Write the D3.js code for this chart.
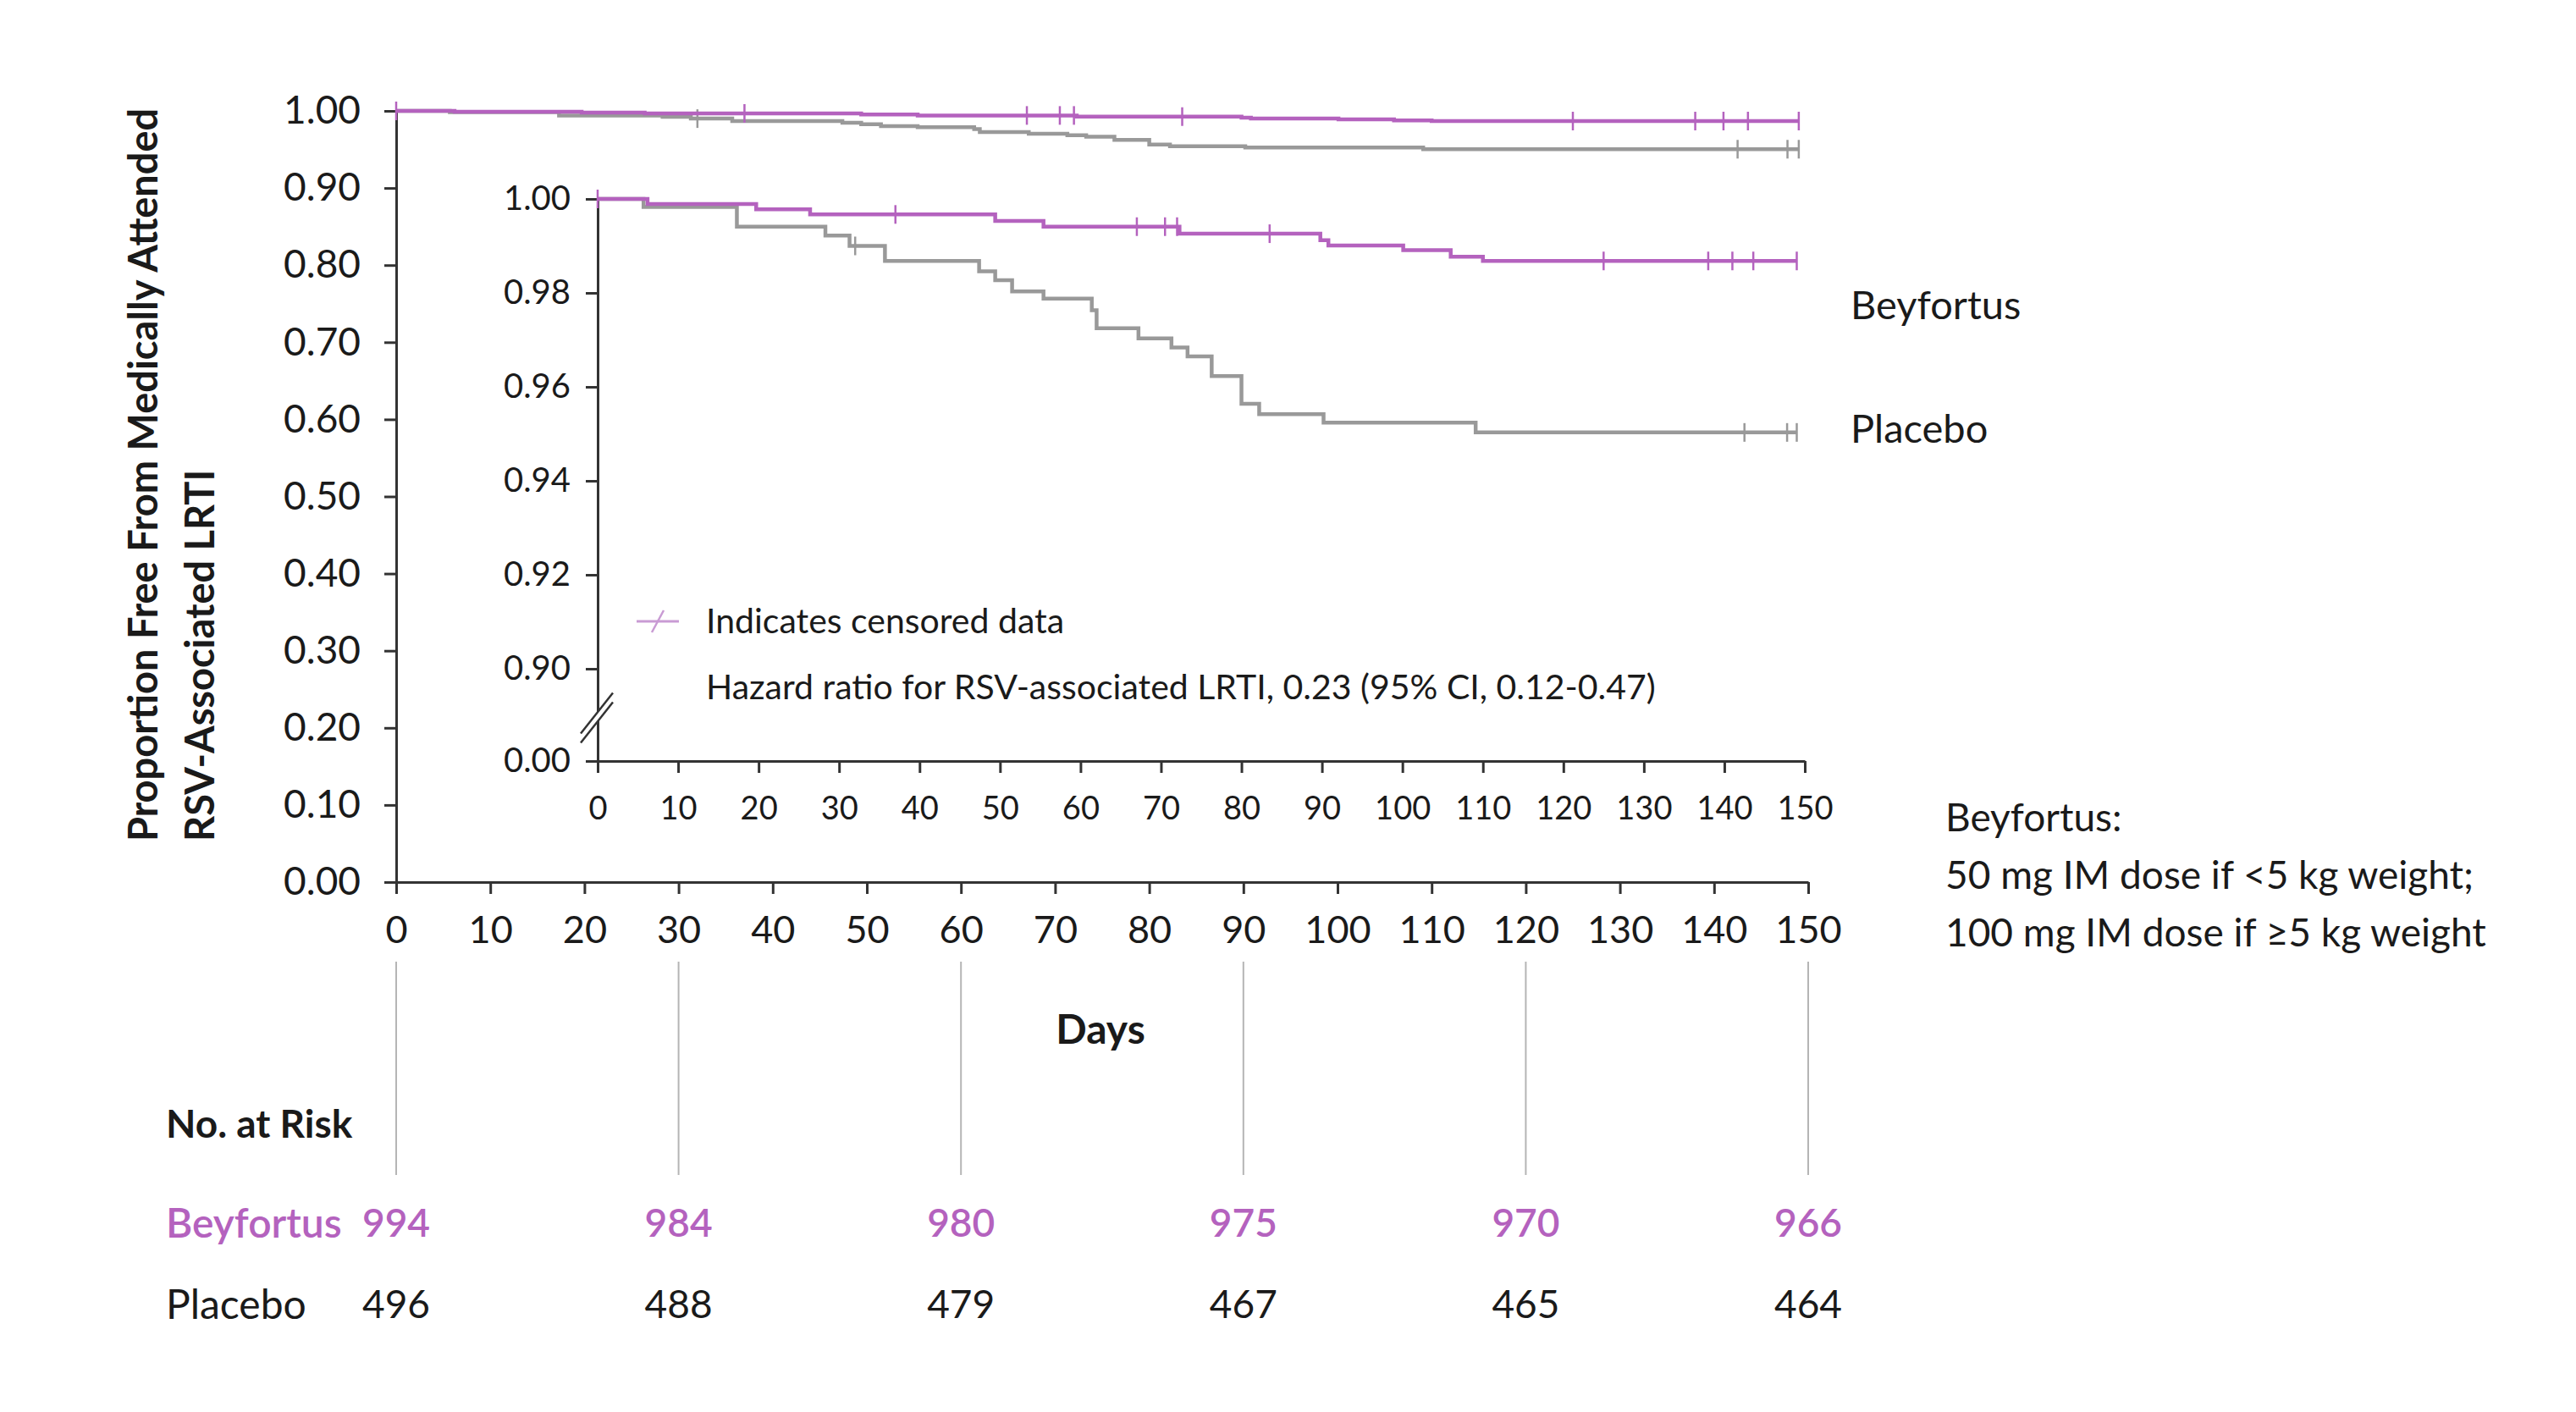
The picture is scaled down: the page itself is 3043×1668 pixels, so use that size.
<!DOCTYPE html>
<html>
<head>
<meta charset="utf-8">
<script src="https://cdn.jsdelivr.net/npm/d3@7"></script>
<style>
  body { margin: 0; background: #fff; }
  text { font-family: Lato, "Open Sans", sans-serif; fill: #1a1a1a; }
</style>
</head>
<body>
<svg id="chart"></svg>
<script>
// Kaplan-Meier steps: day of event and proportion free after it
var beyfortusDays = [0, 6.2, 19.7, 26.4, 49.4, 55.4, 72.3, 89.8, 90.8, 100.1, 106, 110, 149]
var beyfortusSurvival = [1, 0.9989, 0.9978, 0.9967, 0.9953, 0.9941, 0.9926, 0.9912, 0.9901, 0.9891, 0.9877, 0.9868, 0.9868]
var placeboDays = [0, 5.7, 17.3, 28.3, 31.3, 35.7, 47.4, 49.4, 51.5, 55.4, 61.4, 62, 67.2, 71.3, 73.3, 76.3, 80, 82.2, 90.2, 109.1, 149]
var placeboSurvival = [1, 0.9983, 0.9941, 0.9922, 0.99, 0.9868, 0.9846, 0.9827, 0.9803, 0.9788, 0.9763, 0.9725, 0.9703, 0.9684, 0.9665, 0.9623, 0.9564, 0.9542, 0.9524, 0.9503, 0.9503]

// censored observations (days)
var beyfortusCensored = [0, 37, 67, 70.5, 72, 83.5, 125, 138, 141, 143.6, 149]
var placeboCensored = [32, 142.5, 147.8, 149]

// number at risk table
var riskDays = [0, 30, 60, 90, 120, 150]
var beyfortusAtRisk = [994, 984, 980, 975, 970, 966]
var placeboAtRisk = [496, 488, 479, 467, 465, 464]

var xTicks = d3.range(0, 151, 10)
var mainYTicks = d3.range(0, 11).map(d => d / 10)
var insetYTicks = [0, 0.90, 0.92, 0.94, 0.96, 0.98, 1.00]

var purple = '#b462be'
var grey = '#999999'
var axisColor = '#333333'

var width = 3043
var height = 1668

var svg = d3.select('#chart')
    .attr('width', width)
    .attr('height', height)

var x = d3.scaleLinear().domain([0, 150]).range([468, 2136])
var y = d3.scaleLinear().domain([0, 1]).range([1042, 131])

var xi = d3.scaleLinear().domain([0, 150]).range([706, 2132])
var yi = d3.scaleLinear().domain([0, 0.9, 1]).range([899, 790, 235])

var beyfortus = beyfortusDays.map((d, i) => [d, beyfortusSurvival[i]])
var placebo = placeboDays.map((d, i) => [d, placeboSurvival[i]])

// survival value at a given day, for placing the censor ticks
function survAt(days, surv, t) {
  var i = d3.bisectRight(days, t) - 1
  return surv[Math.max(0, i)]
}

function styleAxis(g, fontSize) {
  g.select('.domain').attr('stroke', axisColor).attr('stroke-width', 3)
  g.selectAll('.tick line').attr('stroke', axisColor).attr('stroke-width', 3)
  g.selectAll('.tick text')
    .attr('fill', '#1a1a1a')
    .style('font-family', 'Lato, sans-serif')
    .style('font-size', fontSize + 'px')
}

function drawCurves(xs, ys) {
  var line = d3.line()
      .x(d => xs(d[0]))
      .y(d => ys(d[1]))
      .curve(d3.curveStepAfter)

  var groups = [
    { data: placebo, color: grey, days: placeboDays, surv: placeboSurvival, censored: placeboCensored },
    { data: beyfortus, color: purple, days: beyfortusDays, surv: beyfortusSurvival, censored: beyfortusCensored }
  ]

  groups.forEach(function (s) {
    svg.append('path')
      .datum(s.data)
      .attr('d', line)
      .attr('fill', 'none')
      .attr('stroke', s.color)
      .attr('stroke-width', 4.5)

    svg.selectAll(null)
      .data(s.censored)
      .enter()
      .append('line')
        .attr('x1', d => xs(d))
        .attr('x2', d => xs(d))
        .attr('y1', d => ys(survAt(s.days, s.surv, d)) - 11)
        .attr('y2', d => ys(survAt(s.days, s.surv, d)) + 11)
        .attr('stroke', s.color)
        .attr('stroke-width', 2.5)
  })
}

// ---- main plot ----
var gx = svg.append('g')
    .attr('transform', 'translate(0,' + y(0) + ')')
    .call(d3.axisBottom(x).tickValues(xTicks).tickSize(14).tickSizeOuter(0).tickPadding(26))
styleAxis(gx, 45)

var gy = svg.append('g')
    .attr('transform', 'translate(' + x(0) + ',0)')
    .call(d3.axisLeft(y).tickValues(mainYTicks).tickSize(14).tickSizeOuter(0).tickPadding(28).tickFormat(d3.format('.2f')))
styleAxis(gy, 46)

drawCurves(x, y)

// ---- inset plot ----
var gxi = svg.append('g')
    .attr('transform', 'translate(0,' + yi(0) + ')')
    .call(d3.axisBottom(xi).tickValues(xTicks).tickSize(14).tickSizeOuter(0).tickPadding(28))
styleAxis(gxi, 38)

var gyi = svg.append('g')
    .attr('transform', 'translate(' + xi(0) + ',0)')
    .call(d3.axisLeft(yi).tickValues(insetYTicks).tickSize(14).tickSizeOuter(0).tickPadding(18).tickFormat(d3.format('.2f')))
styleAxis(gyi, 40)

// axis break between 0.00 and 0.90
var bx = xi(0)
var by = (yi(0) + yi(0.9)) / 2 + 3
svg.append('polygon')
  .attr('points', [[bx - 20, by + 19], [bx + 18, by - 29], [bx + 18, by - 18], [bx - 20, by + 30]].join(' '))
  .attr('fill', '#fff')
svg.selectAll(null)
  .data([0, 11])
  .enter()
  .append('line')
    .attr('x1', bx - 20).attr('y1', d => by + 19 + d)
    .attr('x2', bx + 18).attr('y2', d => by - 29 + d)
    .attr('stroke', axisColor)
    .attr('stroke-width', 2.5)

drawCurves(xi, yi)

// legend inside inset
svg.append('line')
  .attr('x1', 752).attr('x2', 802).attr('y1', 734).attr('y2', 734)
  .attr('stroke', '#c99bd4').attr('stroke-width', 3)
svg.append('line')
  .attr('x1', 770).attr('x2', 784).attr('y1', 747).attr('y2', 721)
  .attr('stroke', '#c99bd4').attr('stroke-width', 2.5)

svg.append('text')
  .attr('x', 834).attr('y', 734).attr('dy', '0.35em')
  .style('font-size', '41px')
  .text('Indicates censored data')

svg.append('text')
  .attr('x', 834).attr('y', 812).attr('dy', '0.35em')
  .style('font-size', '41px')
  .text('Hazard ratio for RSV-associated LRTI, 0.23 (95% CI, 0.12-0.47)')

// series labels
svg.append('text')
  .attr('x', 2186).attr('y', 361).attr('dy', '0.35em')
  .style('font-size', '47px')
  .text('Beyfortus')
svg.append('text')
  .attr('x', 2186).attr('y', 507).attr('dy', '0.35em')
  .style('font-size', '47px')
  .text('Placebo')

// dosing note
var note = ['Beyfortus:', '50 mg IM dose if <5 kg weight;', '100 mg IM dose if \u22655 kg weight']
svg.selectAll(null)
  .data(note)
  .enter()
  .append('text')
    .attr('x', 2298)
    .attr('y', (d, i) => 966 + i * 68)
    .attr('dy', '0.35em')
    .style('font-size', '46px')
    .text(d => d)

// axis titles
svg.append('text')
  .attr('transform', 'translate(' + 170 + ',' + 994 + ') rotate(-90)')
  .attr('dy', '0.35em')
  .style('font-size', '47px')
  .style('font-weight', 700)
  .text('Proportion Free From Medically Attended')
svg.append('text')
  .attr('transform', 'translate(' + 237 + ',' + 994 + ') rotate(-90)')
  .attr('dy', '0.35em')
  .style('font-size', '47px')
  .style('font-weight', 700)
  .text('RSV-Associated LRTI')

svg.append('text')
  .attr('x', 1300).attr('y', 1216).attr('dy', '0.35em')
  .attr('text-anchor', 'middle')
  .style('font-size', '48px')
  .style('font-weight', 700)
  .text('Days')

// ---- number at risk ----
svg.selectAll(null)
  .data(riskDays)
  .enter()
  .append('line')
    .attr('x1', d => x(d)).attr('x2', d => x(d))
    .attr('y1', 1136).attr('y2', 1388)
    .attr('stroke', '#b5b5b5')
    .attr('stroke-width', 2)

svg.append('text')
  .attr('x', 196).attr('y', 1328).attr('dy', '0.35em')
  .style('font-size', '46px')
  .style('font-weight', 700)
  .text('No. at Risk')

svg.append('text')
  .attr('x', 196).attr('y', 1445).attr('dy', '0.35em')
  .style('font-size', '48px')
  .style('font-weight', 600)
  .style('fill', purple)
  .text('Beyfortus')

svg.append('text')
  .attr('x', 196).attr('y', 1541).attr('dy', '0.35em')
  .style('font-size', '48px')
  .text('Placebo')

svg.selectAll(null)
  .data(beyfortusAtRisk)
  .enter()
  .append('text')
    .attr('x', (d, i) => x(riskDays[i]))
    .attr('y', 1445).attr('dy', '0.35em')
    .attr('text-anchor', 'middle')
    .style('font-size', '46px')
    .style('font-weight', 600)
    .style('fill', purple)
    .text(d => d)

svg.selectAll(null)
  .data(placeboAtRisk)
  .enter()
  .append('text')
    .attr('x', (d, i) => x(riskDays[i]))
    .attr('y', 1541).attr('dy', '0.35em')
    .attr('text-anchor', 'middle')
    .style('font-size', '46px')
    .text(d => d)
</script>
</body>
</html>
